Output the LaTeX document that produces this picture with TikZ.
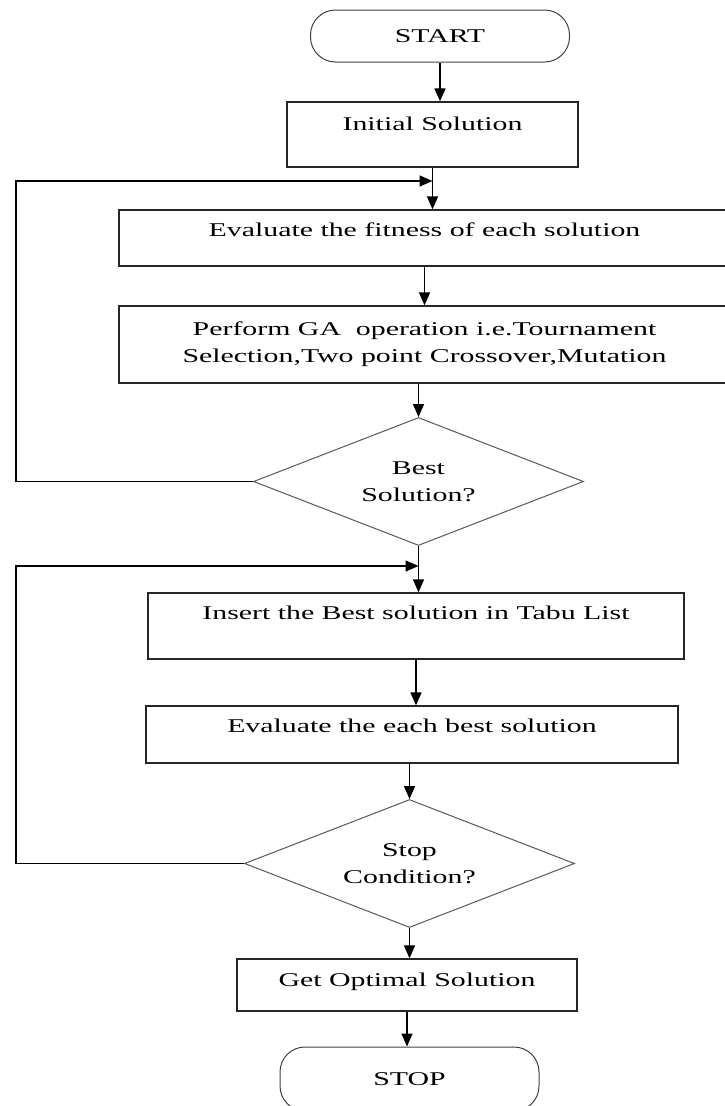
\documentclass[tikz,border=0pt]{standalone}
\usepackage{fontspec}
\setmainfont{Liberation Serif}[FakeStretch=1.53]
\usetikzlibrary{shapes.geometric, arrows.meta}
\tikzstyle{terminal} = [rectangle, rounded corners=25pt, minimum width=259pt, minimum height=52pt, text centered, draw=black!75, line width=1pt]
\tikzstyle{process} = [rectangle, text centered, draw=black!85, line width=1.3pt]
\tikzstyle{decision} = [diamond, aspect=2.5, inner sep=0pt, minimum width=330pt, minimum height=128pt, align=center, draw=black!65, line width=1pt]
\tikzstyle{arrow} = [line width=1.4pt,->,>={Triangle[length=13pt,width=11pt]}]

\begin{document}
\begin{tikzpicture}[x=1pt, y=-1pt, font=\fontsize{19.5}{27}\selectfont]
    \useasboundingbox (0,0) rectangle (725,1106);
    \node (start) [terminal] at (440,36) {START};
    \node (init) [process, minimum width=291pt, minimum height=65pt, text height=13pt, text depth=21pt, below of=start, node distance=98.5pt, xshift=-7.5pt] {Initial Solution};
    \node (eval) [process, minimum width=611pt, minimum height=56pt, text height=13pt, text depth=16pt, below of=init, node distance=103.5pt, xshift=-8pt] {Evaluate the fitness of each solution};
    \node (perform) [process, minimum width=611pt, minimum height=77pt, align=center, below of=eval, node distance=106.5pt] {Perform GA\ \ operation i.e.Tournament\\Selection,Two point Crossover,Mutation};
    \node (best) [decision, below of=perform, node distance=137pt, xshift=-6pt] {Best\\Solution?};
    \node (insert) [process, minimum width=536pt, minimum height=66pt, text height=13pt, text depth=26pt, below of=best, node distance=144.5pt, xshift=-2.5pt] {Insert the Best solution in Tabu List};
    \node (evalbest) [process, minimum width=532pt, minimum height=57pt, text height=13pt, text depth=17pt, below of=insert, node distance=108.5pt, xshift=-4pt] {Evaluate the each best solution};
    \node (stopcond) [decision, below of=evalbest, node distance=129pt, xshift=-2.5pt] {Stop\\Condition?};
    \node (getopt) [process, minimum width=340pt, minimum height=52pt, text height=13pt, text depth=10pt, below of=stopcond, node distance=121.5pt, xshift=-2.5pt] {Get Optimal Solution};
    \node (stop) [terminal, minimum height=64pt, below of=getopt, node distance=94pt, xshift=2.5pt] {STOP};

    \coordinate (back1) at (16,181);
    \coordinate (join1) at (init.south |- back1);
    \coordinate (back2) at (16,566);
    \coordinate (join2) at (best.south |- back2);

    \draw [arrow] (start.south) -- (start.south |- init.north);
    \draw [arrow] (init.south) -- (init.south |- eval.north);
    \draw [arrow] (eval.south) -- (eval.south |- perform.north);
    \draw [arrow] (best.north |- perform.south) -- (best.north);
    \draw [arrow] (best.south) -- (best.south |- insert.north);
    \draw [arrow] (insert.south) -- (insert.south |- evalbest.north);
    \draw [arrow] (stopcond.north |- evalbest.south) -- (stopcond.north);
    \draw [arrow] (stopcond.south) -- (stopcond.south |- getopt.north);
    \draw [arrow] (getopt.south) -- (getopt.south |- stop.north);
    \draw [arrow] (best.west) -| (back1) -- (join1);
    \draw [arrow] (stopcond.west) -| (back2) -- (join2);
    \end{tikzpicture}
\end{document}
